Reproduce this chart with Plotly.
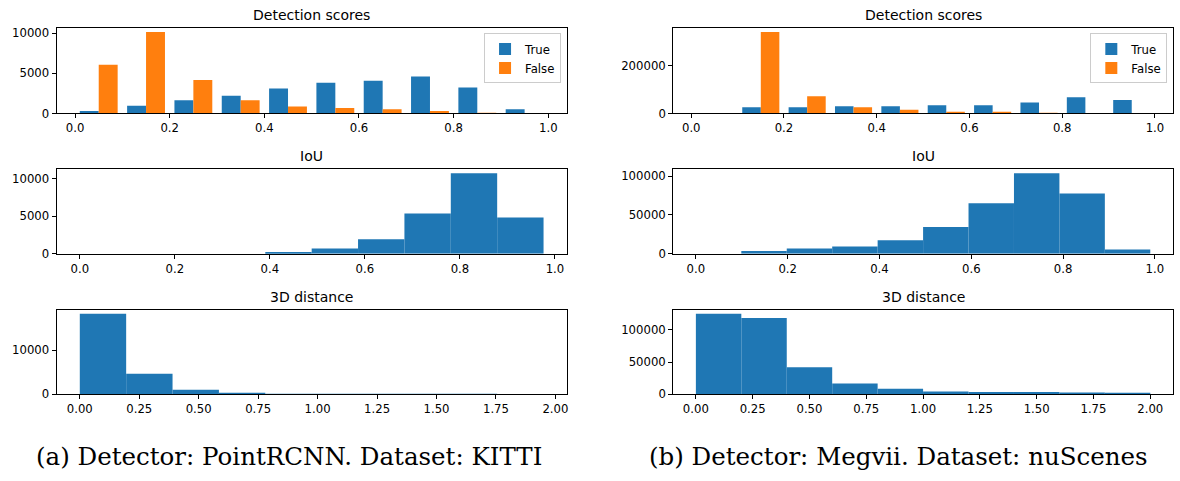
import numpy as np
import plotly.graph_objects as go

# ---------------- data ----------------
score_edges = [0.0, 0.1, 0.2, 0.3, 0.4, 0.5, 0.6, 0.7, 0.8, 0.9, 1.0]

kitti_score_true = [290, 950, 1640, 2210, 3110, 3810, 4060, 4590, 3240, 530]
kitti_score_false = [6070, 10160, 4180, 1640, 860, 660, 530, 290, 20, 0]

nusc_score_true = [0, 26000, 26000, 30000, 30000, 34000, 34000, 45000, 67000, 56000]
nusc_score_false = [0, 339700, 71200, 26000, 15000, 5500, 4500, 800, 0, 0]

kitti_iou_range = [0.0, 0.976]
kitti_iou_counts = [0, 0, 0, 0, 220, 710, 1940, 5370, 10750, 4850]

nusc_iou_range = [0.0, 0.99]
nusc_iou_counts = [0, 3400, 6800, 9300, 17300, 34600, 65000, 103800, 77600, 5500]

kitti_dist_range = [0.0, 1.95]
kitti_dist_counts = [18220, 4670, 1040, 300, 40, 15, 8, 4, 2, 1]

nusc_dist_range = [0.0, 2.0]
nusc_dist_counts = [124900, 118300, 42100, 16800, 8600, 4600, 3600, 3600, 3000, 1500]

titles = ["Detection scores", "Detection scores", "IoU", "IoU", "3D distance", "3D distance"]
captions = ["(a) Detector: PointRCNN. Dataset: KITTI", "(b) Detector: Megvii. Dataset: nuScenes"]

score_ticks = [0.0, 0.2, 0.4, 0.6, 0.8, 1.0]
score_ticktext = ["0.0", "0.2", "0.4", "0.6", "0.8", "1.0"]
dist_ticks = [0.0, 0.25, 0.5, 0.75, 1.0, 1.25, 1.5, 1.75, 2.0]
dist_ticktext = ["0.00", "0.25", "0.50", "0.75", "1.00", "1.25", "1.50", "1.75", "2.00"]

y_ticks = [
    [0, 5000, 10000],
    [0, 200000],
    [0, 5000, 10000],
    [0, 50000, 100000],
    [0, 10000],
    [0, 50000, 100000],
]

# ---------------- styling ----------------
W, H = 1180, 481
BLUE = "#1f77b4"
ORANGE = "#ff7f0e"
TICK_FONT = dict(family="DejaVu Sans", size=11.7, color="black")
TITLE_FONT = dict(family="DejaVu Sans", size=14, color="black")

# axes boxes in pixels (left, right, top, bottom)
col_px = [(56.7, 567.7), (674.3, 1175.0)]
row_px = [(27.3, 114.3), (171.0, 257.0), (314.0, 400.0)]

fig = go.Figure()
ranges = {}


def pad_range(lo, hi, frac=0.05):
    d = hi - lo
    return [lo - frac * d, hi + frac * d]


def add_grouped(idx, edges, t_counts, f_counts, legend_name):
    edges = np.asarray(edges, dtype=float)
    left = edges[:-1]
    w = np.diff(edges)
    fig.add_trace(go.Bar(x=left, y=t_counts, width=0.4 * w, offset=0.1 * w,
                         marker=dict(color=BLUE, line=dict(width=0)), name="True",
                         xaxis=f"x{idx}", yaxis=f"y{idx}", legend=legend_name,
                         showlegend=True, hoverinfo="skip"))
    fig.add_trace(go.Bar(x=left, y=f_counts, width=0.4 * w, offset=0.5 * w,
                         marker=dict(color=ORANGE, line=dict(width=0)), name="False",
                         xaxis=f"x{idx}", yaxis=f"y{idx}", legend=legend_name,
                         showlegend=True, hoverinfo="skip"))
    lo = left[0] + 0.1 * w[0]
    hi = left[-1] + 0.9 * w[-1]
    ranges[idx] = (pad_range(lo, hi), [0, 1.05 * max(max(t_counts), max(f_counts))])


def add_hist(idx, rng, counts):
    edges = np.linspace(rng[0], rng[1], len(counts) + 1)
    left = edges[:-1]
    w = np.diff(edges)
    fig.add_trace(go.Bar(x=left, y=counts, width=w, offset=0,
                         marker=dict(color=BLUE, line=dict(width=0)),
                         xaxis=f"x{idx}", yaxis=f"y{idx}", showlegend=False,
                         hoverinfo="skip"))
    ranges[idx] = (pad_range(edges[0], edges[-1]), [0, 1.05 * max(counts)])


add_grouped(1, score_edges, kitti_score_true, kitti_score_false, "legend")
add_grouped(2, score_edges, nusc_score_true, nusc_score_false, "legend2")
add_hist(3, kitti_iou_range, kitti_iou_counts)
add_hist(4, nusc_iou_range, nusc_iou_counts)
add_hist(5, kitti_dist_range, kitti_dist_counts)
add_hist(6, nusc_dist_range, nusc_dist_counts)

layout = dict(
    width=W, height=H,
    margin=dict(l=0, r=0, t=0, b=0),
    paper_bgcolor="white", plot_bgcolor="white",
    barmode="overlay",
    font=TICK_FONT,
    annotations=[],
)

for idx in range(1, 7):
    r = (idx - 1) // 2
    c = (idx - 1) % 2
    xl, xr = col_px[c]
    yt, yb = row_px[r]
    xdom = [xl / W, xr / W]
    ydom = [1 - yb / H, 1 - yt / H]
    xr_, yr_ = ranges[idx]
    if r < 2:
        tv, tt = score_ticks, score_ticktext
    else:
        tv, tt = dist_ticks, dist_ticktext
    common = dict(showline=True, linecolor="black", linewidth=1, mirror=True,
                  ticks="outside", ticklen=4, tickwidth=1, tickcolor="black",
                  showgrid=False, zeroline=False, tickfont=TICK_FONT, fixedrange=True)
    layout[f"xaxis{idx}"] = dict(domain=xdom, anchor=f"y{idx}", range=xr_,
                                 tickmode="array", tickvals=tv, ticktext=tt, **common)
    layout[f"yaxis{idx}"] = dict(domain=ydom, anchor=f"x{idx}", range=yr_,
                                 tickmode="array", tickvals=y_ticks[idx - 1],
                                 ticktext=[str(v) for v in y_ticks[idx - 1]], **common)
    layout["annotations"].append(dict(
        text=titles[idx - 1], xref="paper", yref="paper",
        x=(xdom[0] + xdom[1]) / 2, y=ydom[1], xanchor="center", yanchor="bottom",
        yshift=3, showarrow=False, font=TITLE_FONT))

legend_common = dict(xanchor="right", yanchor="top", bgcolor="rgba(255,255,255,0.8)",
                     bordercolor="#cccccc", borderwidth=1, font=TICK_FONT,
                     tracegroupgap=0, traceorder="normal")
layout["legend"] = dict(x=(col_px[0][1] - 5.7) / W, y=1 - (row_px[0][0] + 5.7) / H, **legend_common)
layout["legend2"] = dict(x=(col_px[1][1] - 5.7) / W, y=1 - (row_px[0][0] + 5.7) / H, **legend_common)

caption_x = [289 / W, 900.5 / W]
for i, cap in enumerate(captions):
    layout["annotations"].append(dict(
        text=cap, xref="paper", yref="paper", x=caption_x[i], y=1 - 463 / H,
        xanchor="center", yanchor="middle", showarrow=False,
        font=dict(family="DejaVu Serif", size=24.5, color="black")))

fig.update_layout(**layout)
fig.write_html("out.html", config={"displayModeBar": False})
